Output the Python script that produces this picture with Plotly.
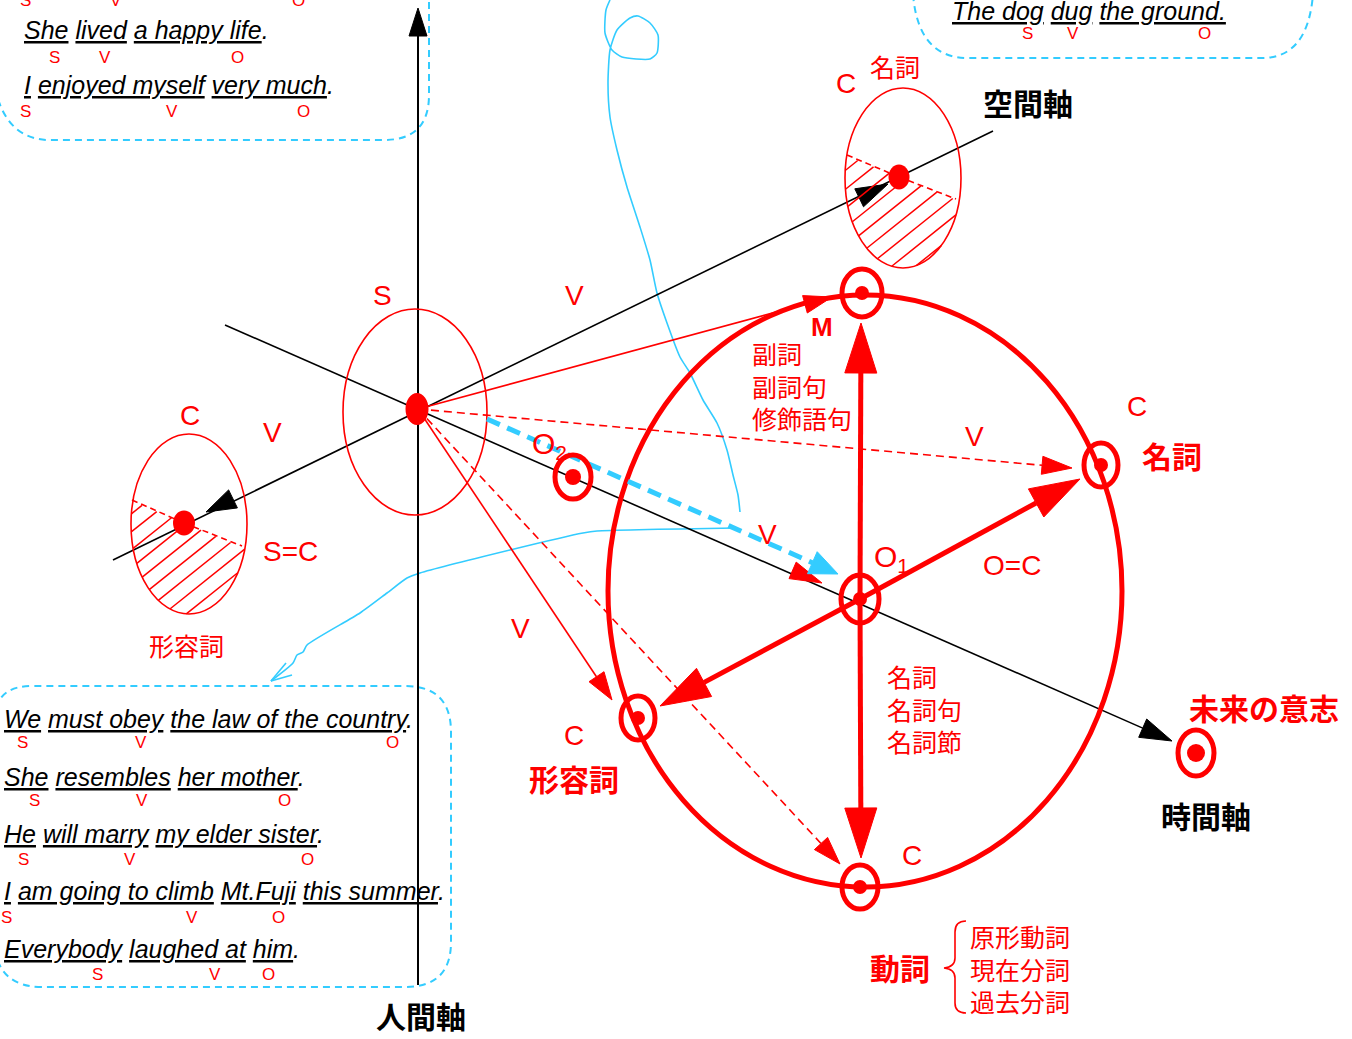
import numpy as np
import plotly.graph_objects as go

W, H = 1352, 1039
RED = "#FF0000"
BLUE = "#33CCFF"
BLACK = "#000000"
JP = "Noto Sans CJK JP"
LAT = "Liberation Sans"

# ---------------- text content ----------------
sent_top_left = ["<u>She</u> <u>lived</u> <u>a happy life</u>.",
                 "<u>I</u> <u>enjoyed myself</u> <u>very much</u>."]
sent_top_right = ["<u>The dog</u> <u>dug</u> <u>the ground.</u>"]
sent_bottom = ["<u>We</u> <u>must obey</u> <u>the law of the country</u>.",
               "<u>She</u> <u>resembles</u> <u>her mother</u>.",
               "<u>He</u> <u>will marry</u> <u>my elder sister</u>.",
               "<u>I</u> <u>am going to climb</u> <u>Mt.Fuji</u> <u>this summer</u>.",
               "<u>Everybody</u> <u>laughed at</u> <u>him</u>."]
roles = ["S", "V", "O"]

axis_names = ["人間軸", "空間軸", "時間軸"]
adj_list = ["副詞", "副詞句", "修飾語句"]
noun_list = ["名詞", "名詞句", "名詞節"]
verb_list = ["原形動詞", "現在分詞", "過去分詞"]

# ---------------- layout geometry (pixels) ----------------
sent_tl_pos = [(22, 30), (22, 85)]
sent_tr_pos = [(950, 11)]
sent_b_pos = [(2, 719), (2, 777), (2, 834), (2, 891), (2, 949)]
role_x = [[25, 116, 298], [54, 105, 237], [25, 172, 303], [1027, 1073, 1204],
          [22, 141, 392], [34, 142, 284], [23, 130, 307], [6, 192, 278], [97, 215, 268]]
role_y = [0.5, 57, 111, 33, 742, 800, 859, 917, 974]

S_pt = (418, 409)
O1_pt = (860, 599)

fig = go.Figure()
shapes = []
annos = []


def line(x0, y0, x1, y1, color, width, dash=None):
    d = dict(color=color, width=width)
    if dash:
        d["dash"] = dash
    shapes.append(dict(type="line", x0=x0, y0=y0, x1=x1, y1=y1, line=d, layer="above"))


def ellipse(cx, cy, rx, ry, color, width, fill=None):
    s = dict(type="circle", x0=cx - rx, x1=cx + rx, y0=cy - ry, y1=cy + ry,
             line=dict(color=color, width=width), layer="above")
    if fill:
        s["fillcolor"] = fill
    shapes.append(s)


def path(p, color, width, dash=None, fill=None):
    d = dict(color=color, width=width)
    if dash:
        d["dash"] = dash
    s = dict(type="path", path=p, line=d, layer="above")
    if fill:
        s["fillcolor"] = fill
    shapes.append(s)


def head(start, tip, length, half, color):
    sx, sy = start
    tx, ty = tip
    dx, dy = tx - sx, ty - sy
    L = np.hypot(dx, dy)
    ux, uy = dx / L, dy / L
    bx, by = tx - ux * length, ty - uy * length
    nx, ny = -uy, ux
    p = (f"M {tx},{ty} L {bx + nx * half:.1f},{by + ny * half:.1f} "
         f"L {bx - nx * half:.1f},{by - ny * half:.1f} Z")
    shapes.append(dict(type="path", path=p, fillcolor=color,
                       line=dict(color=color, width=1), layer="above"))
    return bx, by


def arrow(start, tip, lw, length, half, color, dash=None):
    bx, by = head(start, tip, length, half, color)
    line(start[0], start[1], bx, by, color, lw, dash)


def bullseye(cx, cy, rx, ry, dr, lw=5):
    ellipse(cx, cy, rx, ry, RED, lw)
    ellipse(cx, cy, dr, dr, RED, 0, RED)


def hatch(cx, cy, rx, ry, px, py, bslope, hslope, step, lw=1.5):
    A = 1 / rx ** 2 + hslope ** 2 / ry ** 2
    ext = np.sqrt((hslope * rx) ** 2 + ry ** 2)
    b0 = cy - hslope * cx
    k = hslope - bslope
    for b in np.arange(b0 - ext + step * 0.5, b0 + ext, step):
        B = -2 * cx / rx ** 2 + 2 * hslope * (b - cy) / ry ** 2
        C = cx ** 2 / rx ** 2 + (b - cy) ** 2 / ry ** 2 - 1
        disc = B * B - 4 * A * C
        if disc <= 0:
            continue
        x1 = (-B - np.sqrt(disc)) / (2 * A)
        x2 = (-B + np.sqrt(disc)) / (2 * A)
        xc = (py - bslope * px - b) / k
        if k < 0:
            x2 = min(x2, xc)
        if x2 - x1 > 3:
            line(x1, hslope * x1 + b, x2, hslope * x2 + b, RED, lw)


# ---------------- blue dashed boxes ----------------
path("M 429,-10 L 429,95 Q 429,140 384,140 L 50,140 Q 8,140 -4,92", BLUE, 2, "7px,5px")
path("M 913,-6 Q 918,58 968,58 L 1262,58 Q 1308,58 1313,-6", BLUE, 2, "7px,5px")
path("M -4,708 Q 2,686 32,686 L 405,686 Q 451,686 451,732 L 451,942 Q 451,987 405,987 "
     "L 42,987 Q 4,987 -4,955", BLUE, 2, "7px,5px")

# ---------------- blue freehand curves ----------------
curve1_x = [610, 606, 605, 612, 622, 650, 657, 658, 650, 638, 630, 617, 610, 608, 610, 617,
            627, 640, 650, 657, 667, 680, 690, 703, 717, 727, 733, 738, 740]
curve1_y = [0, 10, 33, 50, 57, 59, 53, 35, 23, 16, 18, 30, 50, 83, 117, 150,
            187, 227, 260, 293, 323, 357, 373, 400, 423, 450, 475, 495, 512]
curve2_x = [737, 597, 583, 510, 420, 407, 387, 360, 307, 303, 297, 293, 271]
curve2_y = [528, 531, 533, 550, 573, 578, 593, 613, 645, 652, 655, 663, 681]
for cx_, cy_ in [(curve1_x, curve1_y), (curve2_x, curve2_y)]:
    fig.add_trace(go.Scatter(x=cx_, y=cy_, mode="lines", hoverinfo="skip",
                             line=dict(color=BLUE, width=1.6, shape="spline", smoothing=0.6),
                             showlegend=False))
line(271, 681, 286, 663, BLUE, 1.6)
line(271, 681, 292, 675, BLUE, 1.6)

# ---------------- black axes ----------------
arrow((418, 985), (418, 8), 2, 28, 9, BLACK)
line(113, 560, 993, 131, BLACK, 1.6)
head(S_pt, (206, 512), 30, 10, BLACK)
head(S_pt, (888, 184), 32, 10, BLACK)
arrow((225, 325), (1172, 741), 1.6, 32, 10, BLACK)

# ---------------- small ellipses ----------------
ellipse(415, 412, 72, 103, RED, 1.6)
ellipse(417, 409, 11.5, 16, RED, 0, RED)

ellipse(189, 524, 58, 90, RED, 1.6)
line(132, 500, 184, 523, RED, 1.6, "6px,4px")
line(184, 523, 242, 546, RED, 1.6, "6px,4px")
hatch(189, 524, 58, 90, 184, 523, 0.42, -0.8, 18)
ellipse(184, 523, 11, 12.5, RED, 0, RED)

ellipse(903, 178, 58, 90, RED, 1.6)
line(847, 155, 899, 177, RED, 1.6, "6px,4px")
line(899, 177, 956, 199, RED, 1.6, "6px,4px")
hatch(903, 178, 58, 90, 899, 177, 0.4, -0.8, 19)
ellipse(899, 177, 10.5, 12.5, RED, 0, RED)

# ---------------- big ellipse ----------------
ellipse(865, 591, 257, 296, RED, 5)

# thin red arrows from S
arrow(S_pt, (832, 297), 1.6, 28, 9, RED)
arrow(S_pt, (1072, 468), 1.6, 30, 9, RED, "8px,5px")
arrow(S_pt, (612, 700), 1.6, 28, 9, RED)
arrow(S_pt, (840, 864), 1.6, 28, 9, RED, "8px,5px")
head(S_pt, (822, 583), 32, 9, RED)

# blue dashed arrow
arrow((487, 419), (838, 574), 5, 28, 12, BLUE, "14px,8px")

# thick red arrows from O1
arrow(O1_pt, (861, 323), 5, 50, 16, RED)
arrow(O1_pt, (861, 858), 5, 50, 16, RED)
arrow(O1_pt, (1080, 479), 5, 50, 16, RED)
arrow(O1_pt, (660, 706), 5, 50, 16, RED)

# bullseye markers
bullseye(862, 293, 20, 24, 7)
bullseye(1101, 465, 17, 22, 7)
bullseye(638, 718, 17, 22, 7)
bullseye(860, 887, 18, 22, 7)
bullseye(860, 599, 19, 24, 7)
bullseye(573, 477, 18, 22, 8)
bullseye(1196, 753, 18, 23, 9)

# brace
path("M 966,921 Q 955,921 955,932 L 955,958 Q 955,967 944,968 Q 955,969 955,978 "
     "L 955,1003 Q 955,1013 966,1013", RED, 1.6)


# ---------------- text ----------------
def text(t, x, y, size, color=RED, bold=False, font=JP, xanchor="center"):
    if bold:
        t = f"<b>{t}</b>"
    annos.append(dict(text=t, x=x, y=y, xref="x", yref="y", showarrow=False,
                      xanchor=xanchor, yanchor="middle", align="left",
                      font=dict(family=font, size=size, color=color)))


for s, (x, y) in zip(sent_top_left + sent_top_right + sent_bottom,
                     sent_tl_pos + sent_tr_pos + sent_b_pos):
    text(f"<i>{s}</i>", x, y, 25, BLACK, font=LAT, xanchor="left")
for xs, y in zip(role_x, role_y):
    for r, x in zip(roles, xs):
        text(r, x, y, 17, RED, font=LAT)

text(axis_names[0], 421, 1015, 30, BLACK, True)
text(axis_names[1], 1028, 102, 30, BLACK, True)
text(axis_names[2], 1206, 815, 30, BLACK, True)

text("S", 382, 295, 28, font=LAT)
text("V", 574, 295, 28, font=LAT)
text("C", 190, 415, 28, font=LAT)
text("V", 272, 432, 28, font=LAT)
text("S=C", 290, 551, 28, font=LAT)
text("形容詞", 186, 645, 25)
text("C", 846, 83, 28, font=LAT)
text("名詞", 895, 66, 25)
text("M", 822, 327, 26, bold=True, font=LAT)
text("<br>".join(adj_list), 750, 385, 25, xanchor="left")
text("C", 1137, 406, 28, font=LAT)
text("名詞", 1172, 455, 30, bold=True)
text("V", 974, 436, 28, font=LAT)
text("O<sub>2</sub>", 549, 445, 30, font=LAT)
text("V", 767, 534, 28, font=LAT)
text("O<sub>1</sub>", 891, 558, 30, font=LAT)
text("O=C", 1012, 565, 28, font=LAT)
text("V", 520, 628, 28, font=LAT)
text("C", 574, 735, 28, font=LAT)
text("形容詞", 574, 778, 30, bold=True)
text("<br>".join(noun_list), 885, 708, 25, xanchor="left")
text("C", 912, 855, 28, font=LAT)
text("未来の意志", 1264, 707, 30, bold=True)
text("動詞", 900, 967, 30, bold=True)
text("<br>".join(verb_list), 968, 968, 25, xanchor="left")

fig.update_layout(
    width=W, height=H, margin=dict(l=0, r=0, t=0, b=0),
    paper_bgcolor="white", plot_bgcolor="white",
    xaxis=dict(range=[0, W], visible=False, fixedrange=True),
    yaxis=dict(range=[H, 0], visible=False, fixedrange=True),
    shapes=shapes, annotations=annos, showlegend=False,
)

fig.write_html("out.html", config={"displayModeBar": False},
               post_script="document.body.style.margin='0';")
